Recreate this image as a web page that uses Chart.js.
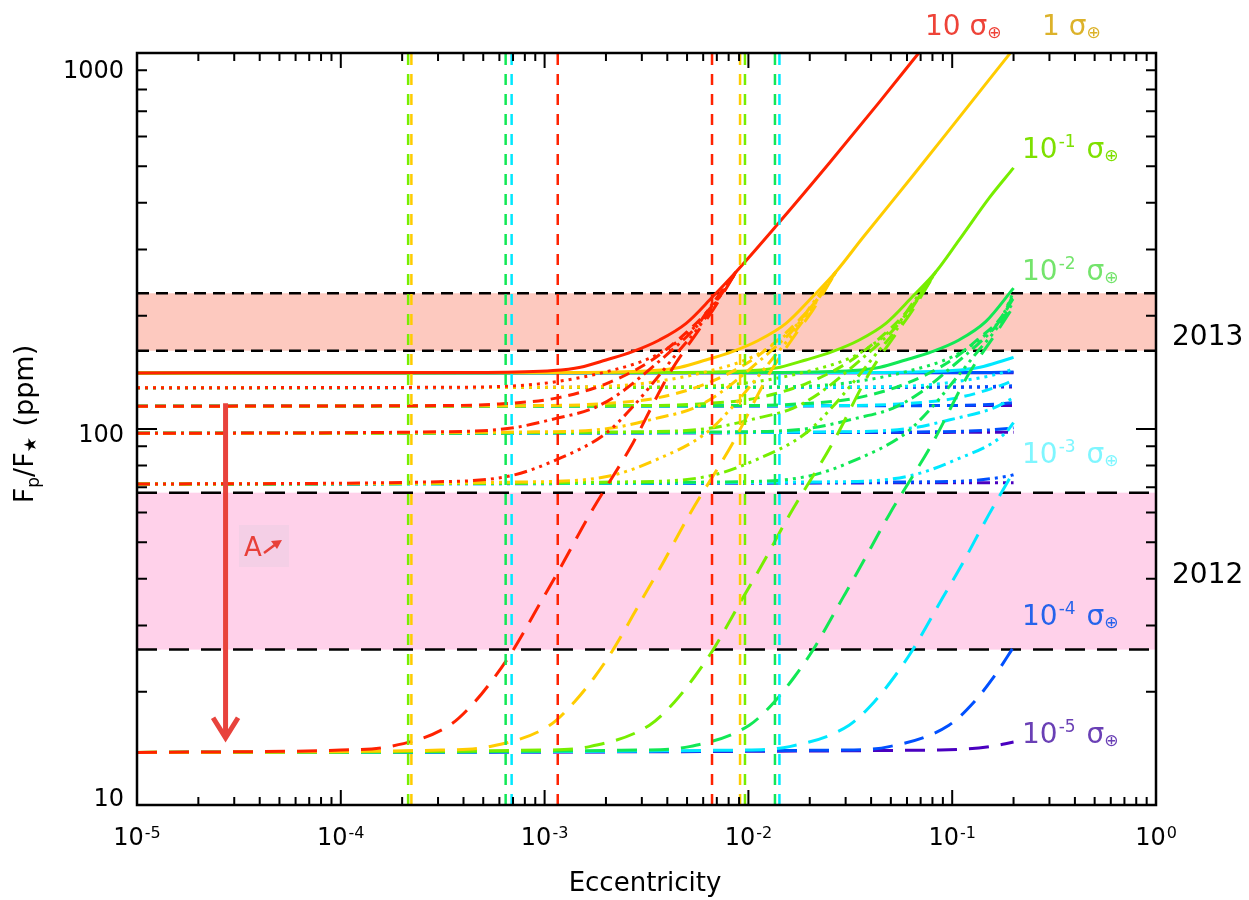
<!DOCTYPE html>
<html>
<head>
<meta charset="utf-8">
<script src="https://cdn.jsdelivr.net/npm/chart.js@4.4.0/dist/chart.umd.min.js"></script>
<style>
  body { margin: 0; background: #fff; }
  #wrap { width: 1249px; height: 900px; }
</style>
</head>
<body>
<div id="wrap"><canvas id="fluxChart" width="1249" height="900"></canvas></div>
<script>
// eccentricity vs Fp/F* (ppm), one family of curves per conductivity
// each curve: [eccentricity, ppm] pairs

// 10 sigma_earth
var s10_solid = [[1e-5,141],[5e-4,141.4],[1.1e-3,143],[1.5e-3,146],[2e-3,152.6],[2.7e-3,160.6],[3.66e-3,172.5],[4.95e-3,191],[6.69e-3,225],[8.71e-3,262],[1.37e-2,347],[2.49e-2,509],[4.38e-2,739],[6.85e-2,1000]];
var s10_dot = [[1e-5,128.8],[4e-4,129.2],[8e-4,130.8],[1.14e-3,133.6],[2e-3,141.9],[3.4e-3,155.6],[4.59e-3,172.5],[5.89e-3,195],[7.22e-3,225],[8.71e-3,262]];
var s10_dash = [[1e-5,115],[3e-4,115.4],[6e-4,116.6],[1.14e-3,120.8],[2e-3,131.9],[3.27e-3,151],[4.59e-3,174],[5.97e-3,199],[7.22e-3,225],[8.71e-3,262]];
var s10_dashdot = [[1e-5,97.4],[3e-4,98.3],[6.73e-4,100.4],[1.14e-3,106.7],[1.73e-3,113.5],[2.34e-3,124.5],[3.4e-3,146.6],[4.59e-3,169],[5.55e-3,187],[6.69e-3,216],[8.71e-3,262]];
var s10_dash3dot = [[1e-5,71.4],[3e-4,72.4],[6.73e-4,75],[1.14e-3,82.8],[2e-3,97.4],[2.71e-3,114.6],[3.4e-3,132.5],[4.59e-3,162],[5.55e-3,183],[6.69e-3,211],[8.71e-3,262]];
var s10_long = [[1e-5,13.8],[1e-4,14.0],[1.74e-4,14.3],[3.42e-4,16.3],[4.54e-4,18.8],[5.69e-4,21.9],[7e-4,25.8],[9.82e-4,35.5],[1.19e-3,42.6],[1.66e-3,59.1],[2.71e-3,91.7],[4.1e-3,140.6],[5.64e-3,181.5],[6.69e-3,207],[8.71e-3,262]];

// 1 sigma_earth
var s1_solid = [[1e-5,141],[1.55e-3,141.4],[3.4e-3,143],[4.64e-3,146],[6.18e-3,152.6],[8.34e-3,160.6],[1.13e-2,172.5],[1.53e-2,191],[2.07e-2,225],[2.69e-2,262],[3.63e-2,322],[6.38e-2,470],[0.112,690],[0.19,990],[0.2,1025]];
var s1_dot = [[1e-5,128.8],[1.24e-3,129.2],[2.47e-3,130.8],[3.52e-3,133.6],[6.18e-3,141.9],[1.05e-2,155.6],[1.42e-2,172.5],[1.82e-2,195],[2.23e-2,225],[2.69e-2,262]];
var s1_dash = [[1e-5,115],[9.27e-4,115.4],[1.85e-3,116.6],[3.52e-3,120.8],[6.18e-3,131.9],[1.01e-2,151],[1.42e-2,174],[1.84e-2,199],[2.23e-2,225],[2.69e-2,262]];
var s1_dashdot = [[1e-5,97.4],[9.27e-4,98.3],[2.08e-3,100.4],[3.52e-3,106.7],[5.35e-3,113.5],[7.23e-3,124.5],[1.05e-2,146.6],[1.42e-2,169],[1.71e-2,187],[2.07e-2,216],[2.69e-2,262]];
var s1_dash3dot = [[1e-5,71.4],[9.27e-4,72.4],[2.08e-3,75],[3.52e-3,82.8],[6.18e-3,97.4],[8.37e-3,114.6],[1.05e-2,132.5],[1.42e-2,162],[1.71e-2,183],[2.07e-2,211],[2.69e-2,262]];
var s1_long = [[1e-5,13.8],[3.09e-4,14.0],[5.38e-4,14.3],[1.06e-3,16.3],[1.4e-3,18.8],[1.76e-3,21.9],[2.16e-3,25.8],[3.03e-3,35.5],[3.68e-3,42.6],[5.13e-3,59.1],[8.37e-3,91.7],[1.27e-2,140.6],[1.74e-2,181.5],[2.07e-2,207],[2.69e-2,262]];

// 1e-1 sigma_earth
var s01_solid = [[1e-5,141],[4.78e-3,141.4],[1.05e-2,143],[1.43e-2,146],[1.91e-2,152.6],[2.58e-2,160.6],[3.5e-2,172.5],[4.73e-2,191],[6.39e-2,225],[8.32e-2,262],[0.108,318],[0.152,412],[0.2,495]];
var s01_dot = [[1e-5,128.8],[3.82e-3,129.2],[7.64e-3,130.8],[1.09e-2,133.6],[1.91e-2,141.9],[3.25e-2,155.6],[4.38e-2,172.5],[5.62e-2,195],[6.9e-2,225],[8.32e-2,262]];
var s01_dash = [[1e-5,115],[2.87e-3,115.4],[5.73e-3,116.6],[1.09e-2,120.8],[1.91e-2,131.9],[3.12e-2,151],[4.38e-2,174],[5.7e-2,199],[6.9e-2,225],[8.32e-2,262]];
var s01_dashdot = [[1e-5,97.4],[2.87e-3,98.3],[6.43e-3,100.4],[1.09e-2,106.7],[1.65e-2,113.5],[2.23e-2,124.5],[3.25e-2,146.6],[4.38e-2,169],[5.3e-2,187],[6.39e-2,216],[8.32e-2,262]];
var s01_dash3dot = [[1e-5,71.4],[2.87e-3,72.4],[6.43e-3,75],[1.09e-2,82.8],[1.91e-2,97.4],[2.59e-2,114.6],[3.25e-2,132.5],[4.38e-2,162],[5.3e-2,183],[6.39e-2,211],[8.32e-2,262]];
var s01_long = [[1e-5,13.8],[9.55e-4,14.0],[1.66e-3,14.3],[3.27e-3,16.3],[4.34e-3,18.8],[5.43e-3,21.9],[6.69e-3,25.8],[9.38e-3,35.5],[1.14e-2,42.6],[1.59e-2,59.1],[2.59e-2,91.7],[3.92e-2,140.6],[5.39e-2,181.5],[6.39e-2,207],[8.32e-2,262]];

// 1e-2 sigma_earth
var s001_solid = [[1e-5,141],[1.48e-2,141.4],[3.25e-2,143],[4.43e-2,146],[5.9e-2,152.6],[7.97e-2,160.6],[0.108,172.5],[0.146,193],[0.2,237]];
var s001_dot = [[1e-5,128.8],[1.18e-2,129.2],[2.36e-2,130.8],[3.36e-2,133.6],[5.9e-2,141.9],[0.1,155.6],[0.135,172.5],[0.174,197],[0.2,232]];
var s001_dash = [[1e-5,115],[8.85e-3,115.4],[1.77e-2,116.6],[3.36e-2,120.8],[5.9e-2,131.9],[9.65e-2,151],[0.135,174],[0.176,200],[0.2,228]];
var s001_dashdot = [[1e-5,97.4],[8.85e-3,98.3],[1.99e-2,100.4],[3.36e-2,106.7],[5.1e-2,113.5],[6.9e-2,124.5],[0.1,146.6],[0.135,169],[0.164,188],[0.2,223]];
var s001_dash3dot = [[1e-5,71.4],[8.85e-3,72.4],[1.99e-2,75],[3.36e-2,82.8],[5.9e-2,97.4],[8.0e-2,114.6],[0.1,132.5],[0.135,162],[0.164,184],[0.2,218]];
var s001_long = [[1e-5,13.8],[2.95e-3,14.0],[5.13e-3,14.3],[1.01e-2,16.3],[1.34e-2,18.8],[1.68e-2,21.9],[2.07e-2,25.8],[2.9e-2,35.5],[3.51e-2,42.6],[4.9e-2,59.1],[8.0e-2,91.7],[0.121,140.6],[0.166,181.5],[0.2,212]];

// 1e-3 sigma_earth
var s1e3_solid = [[1e-5,141],[4.56e-2,141.4],[0.1,143],[0.137,146],[0.182,152.6],[0.2,155]];
var s1e3_dot = [[1e-5,128.8],[3.65e-2,129.2],[7.3e-2,130.8],[0.104,133.6],[0.182,141.9],[0.2,145]];
var s1e3_dash = [[1e-5,115],[2.74e-2,115.4],[5.47e-2,116.6],[0.104,120.8],[0.182,131.9],[0.2,135]];
var s1e3_dashdot = [[1e-5,97.4],[2.74e-2,98.3],[6.14e-2,100.4],[0.104,106.7],[0.158,113.5],[0.2,121]];
var s1e3_dash3dot = [[1e-5,71.4],[2.74e-2,72.4],[6.14e-2,75],[0.104,82.8],[0.182,97.4],[0.2,104]];
var s1e3_long = [[1e-5,13.8],[9.12e-3,14.0],[1.59e-2,14.3],[3.12e-2,16.3],[4.14e-2,18.8],[5.19e-2,21.9],[6.38e-2,25.8],[8.96e-2,35.5],[0.109,42.6],[0.151,59.1],[0.2,77]];

// 1e-4 sigma_earth
var s1e4_solid = [[1e-5,141],[0.141,141.4],[0.2,141.8]];
var s1e4_dot = [[1e-5,128.8],[0.113,129.2],[0.2,130.3]];
var s1e4_dash = [[1e-5,115],[8.46e-2,115.4],[0.169,116.6],[0.2,117.5]];
var s1e4_dashdot = [[1e-5,97.4],[8.46e-2,98.3],[0.19,100.4],[0.2,100.8]];
var s1e4_dash3dot = [[1e-5,71.4],[8.46e-2,72.4],[0.19,75],[0.2,75.6]];
var s1e4_long = [[1e-5,13.8],[2.82e-2,14.0],[4.91e-2,14.3],[9.64e-2,16.3],[0.128,18.8],[0.16,21.9],[0.2,26.3]];

// 1e-5 sigma_earth
var s1e5_solid = [[1e-5,141],[0.2,141.2]];
var s1e5_dot = [[1e-5,128.8],[0.2,129.3]];
var s1e5_dash = [[1e-5,115],[0.2,115.5]];
var s1e5_dashdot = [[1e-5,97.4],[0.2,98]];
var s1e5_dash3dot = [[1e-5,71.4],[0.2,72]];
var s1e5_long = [[1e-5,13.8],[8.71e-2,14.0],[0.152,14.3],[0.2,14.7]];

// vertical eccentricity markers
var markerEcc = [2.14e-4, 2.22e-4, 6.44e-4, 6.89e-4, 1.16e-3, 6.63e-3, 9.10e-3, 9.62e-3, 1.35e-2, 1.42e-2];
var markerColors = ['#77ee00', '#ffcc00', '#11e855', '#00e8ff', '#ff2200', '#ff2200', '#ffcc00', '#77ee00', '#11e855', '#00e8ff'];

// observed ranges (ppm)
var band2013 = [161.5, 229.6];
var band2012 = [25.9, 67.7];

// big arrow: eccentricity, from / to (ppm)
var arrowEcc = 2.72e-5;
var arrowFrom = 117;
var arrowTo = 15.1;

var xTickExp = [-5, -4, -3, -2, -1, 0];
var yTickVals = [10, 100, 1000];

var FONT = "'DejaVu Sans', Verdana, sans-serif";

var familyColors = ['#ff2200', '#ffcc00', '#77ee00', '#11e855', '#00e8ff', '#0050ff', '#4a00c0'];
var familyCurves = [
    [s10_solid, s10_dot, s10_dash, s10_dashdot, s10_dash3dot, s10_long],
    [s1_solid, s1_dot, s1_dash, s1_dashdot, s1_dash3dot, s1_long],
    [s01_solid, s01_dot, s01_dash, s01_dashdot, s01_dash3dot, s01_long],
    [s001_solid, s001_dot, s001_dash, s001_dashdot, s001_dash3dot, s001_long],
    [s1e3_solid, s1e3_dot, s1e3_dash, s1e3_dashdot, s1e3_dash3dot, s1e3_long],
    [s1e4_solid, s1e4_dot, s1e4_dash, s1e4_dashdot, s1e4_dash3dot, s1e4_long],
    [s1e5_solid, s1e5_dot, s1e5_dash, s1e5_dashdot, s1e5_dash3dot, s1e5_long]
];
var styleDashes = [[], [3, 5], [11, 7], [13, 5, 3, 5], [13, 5, 3, 5, 3, 5, 3, 5], [20, 12]];

var datasets = [];
familyCurves.forEach(function (curves, i) {
    curves.forEach(function (pts, j) {
        datasets.push({
            data: pts,
            borderColor: familyColors[i],
            borderWidth: 3,
            borderDash: styleDashes[j],
            pointRadius: 0,
            fill: false,
            cubicInterpolationMode: 'monotone',
            order: i + 1
        });
    });
});
markerEcc.forEach(function (e, i) {
    datasets.push({
        data: [[e, 10], [e, 1000]],
        borderColor: markerColors[i],
        borderWidth: 2.5,
        borderDash: [11, 9],
        pointRadius: 0,
        fill: false,
        order: 0
    });
});

function drawRich(ctx, x, y, parts, color, align) {
    ctx.fillStyle = color;
    ctx.textBaseline = 'alphabetic';
    ctx.textAlign = 'left';
    var w = 0;
    parts.forEach(function (p) {
        ctx.font = p.size + 'px ' + FONT;
        w += ctx.measureText(p.t).width + (p.gap || 0);
    });
    var cx = align === 'center' ? x - w / 2 : x;
    parts.forEach(function (p) {
        ctx.font = p.size + 'px ' + FONT;
        ctx.fillText(p.t, cx, y + (p.dy || 0));
        cx += ctx.measureText(p.t).width + (p.gap || 0);
    });
}

function sigmaParts(exp) {
    var parts;
    if (exp === null) parts = [{ t: '10 σ', size: 28 }];
    else if (exp === 0) parts = [{ t: '1 σ', size: 28 }];
    else parts = [{ t: '10', size: 28, gap: 1 }, { t: '-' + exp, size: 17, dy: -11, gap: 2 }, { t: ' σ', size: 28 }];
    parts.push({ t: '⊕', size: 17, dy: 3 });
    return parts;
}

var sigmaLabels = [
    { exp: null, color: '#ee4338', x: 925, y: 35 },
    { exp: 0, color: '#dcb22a', x: 1042, y: 35 },
    { exp: 1, color: '#7ee000', x: 1022, y: 158 },
    { exp: 2, color: '#74e46c', x: 1022, y: 280 },
    { exp: 3, color: '#7ff6ff', x: 1022, y: 463 },
    { exp: 4, color: '#2563eb', x: 1022, y: 625 },
    { exp: 5, color: '#6a40b5', x: 1022, y: 743 }
];

function hline(ctx, x0, x1, y, dash) {
    ctx.setLineDash(dash);
    ctx.beginPath();
    ctx.moveTo(x0, y);
    ctx.lineTo(x1, y);
    ctx.stroke();
}

var backgroundPlugin = {
    id: 'backgroundAndBands',
    beforeDraw: function (chart) {
        var ctx = chart.ctx;
        ctx.save();
        ctx.fillStyle = '#ffffff';
        ctx.fillRect(0, 0, chart.width, chart.height);
        ctx.restore();
    },
    beforeDatasetsDraw: function (chart) {
        var ctx = chart.ctx, a = chart.chartArea, y = chart.scales.y;
        ctx.save();
        var bands = [[band2013, '#fdc9bf', [12, 7]], [band2012, '#ffd1ea', [20, 12]]];
        bands.forEach(function (b) {
            var top = y.getPixelForValue(b[0][1]);
            var bot = y.getPixelForValue(b[0][0]);
            ctx.fillStyle = b[1];
            ctx.fillRect(a.left, top, a.right - a.left, bot - top);
            ctx.strokeStyle = '#000';
            ctx.lineWidth = 2.5;
            hline(ctx, a.left, a.right, top, b[2]);
            hline(ctx, a.left, a.right, bot, b[2]);
        });
        ctx.restore();
    }
};

var framePlugin = {
    id: 'frameAndText',
    afterDatasetsDraw: function (chart) {
        var ctx = chart.ctx, a = chart.chartArea, x = chart.scales.x, y = chart.scales.y;
        ctx.save();
        ctx.setLineDash([]);

        // "A" note box
        ctx.fillStyle = '#f4cfe6';
        ctx.fillRect(239, 525, 50, 42);
        ctx.fillStyle = '#e8403a';
        ctx.font = '26px ' + FONT;
        ctx.textBaseline = 'alphabetic';
        ctx.fillText('A', 244, 556);
        ctx.strokeStyle = '#e8403a';
        ctx.lineWidth = 2.5;
        ctx.beginPath();
        ctx.moveTo(264, 553);
        ctx.lineTo(276, 544);
        ctx.stroke();
        ctx.beginPath();
        ctx.moveTo(282, 540);
        ctx.lineTo(271, 541);
        ctx.lineTo(277, 549);
        ctx.closePath();
        ctx.fill();

        // big arrow
        var ax = x.getPixelForValue(arrowEcc);
        var ay0 = y.getPixelForValue(arrowFrom);
        var ay1 = y.getPixelForValue(arrowTo);
        ctx.strokeStyle = '#e8433c';
        ctx.lineWidth = 5;
        ctx.beginPath();
        ctx.moveTo(ax, ay0);
        ctx.lineTo(ax, ay1 - 2);
        ctx.stroke();
        ctx.beginPath();
        ctx.moveTo(ax - 12.5, ay1 - 20);
        ctx.lineTo(ax, ay1);
        ctx.lineTo(ax + 12.5, ay1 - 20);
        ctx.stroke();

        // frame
        ctx.strokeStyle = '#000';
        ctx.lineWidth = 2.5;
        ctx.strokeRect(a.left, a.top, a.right - a.left, a.bottom - a.top);

        // ticks
        ctx.lineWidth = 2;
        ctx.beginPath();
        for (var k = -5; k <= 0; k++) {
            for (var m = 1; m <= 9; m++) {
                if (k === 0 && m > 1) break;
                var px = x.getPixelForValue(m * Math.pow(10, k));
                var len = m === 1 ? 15 : 8;
                ctx.moveTo(px, a.bottom);
                ctx.lineTo(px, a.bottom - len);
                ctx.moveTo(px, a.top);
                ctx.lineTo(px, a.top + len);
            }
        }
        for (var ky = 1; ky <= 3; ky++) {
            for (var my = 1; my <= 9; my++) {
                if (ky === 3 && my > 1) break;
                var py = y.getPixelForValue(my * Math.pow(10, ky));
                var ylen = my === 1 ? 20 : 10;
                ctx.moveTo(a.left, py);
                ctx.lineTo(a.left + ylen, py);
                ctx.moveTo(a.right, py);
                ctx.lineTo(a.right - ylen, py);
            }
        }
        ctx.stroke();

        // tick labels
        xTickExp.forEach(function (e) {
            var px = x.getPixelForValue(Math.pow(10, e));
            drawRich(ctx, px, 845, [{ t: '10', size: 24, gap: 1 }, { t: String(e), size: 16, dy: -7 }], '#000', 'center');
        });
        var yLabelShift = { 10: 1, 100: 13, 1000: 25 };
        ctx.font = '24px ' + FONT;
        ctx.fillStyle = '#000';
        ctx.textAlign = 'right';
        yTickVals.forEach(function (v) {
            ctx.fillText(String(v), 124, y.getPixelForValue(v) + yLabelShift[v]);
        });

        // axis titles
        ctx.textAlign = 'center';
        ctx.font = '26px ' + FONT;
        ctx.fillText('Eccentricity', 645, 891);
        ctx.save();
        ctx.translate(33, 424);
        ctx.rotate(-Math.PI / 2);
        drawRich(ctx, 0, 0, [
            { t: 'F', size: 27 }, { t: 'p', size: 17, dy: 6 },
            { t: '/F', size: 27 }, { t: '★', size: 17, dy: 3, gap: 2 },
            { t: ' (ppm)', size: 27 }
        ], '#000', 'center');
        ctx.restore();

        // observation years
        ctx.textAlign = 'left';
        ctx.font = '28px ' + FONT;
        ctx.fillStyle = '#000';
        ctx.fillText('2013', 1172, 345);
        ctx.fillText('2012', 1172, 583);

        // conductivity labels
        sigmaLabels.forEach(function (l) {
            drawRich(ctx, l.x, l.y, sigmaParts(l.exp), l.color, 'left');
        });
        ctx.restore();
    }
};

var ctx = document.getElementById('fluxChart').getContext('2d');
window.fluxChart = new Chart(ctx, {
    type: 'line',
    data: { datasets: datasets },
    options: {
        responsive: false,
        animation: false,
        devicePixelRatio: 1,
        layout: { padding: { left: 137, right: 93, top: 53, bottom: 95 } },
        plugins: { legend: { display: false }, tooltip: { enabled: false } },
        scales: {
            x: { type: 'logarithmic', min: 1e-5, max: 1, display: false },
            y: { type: 'logarithmic', min: 10, max: 1000, display: false }
        },
        elements: { point: { radius: 0 }, line: { borderCapStyle: 'butt' } }
    },
    plugins: [backgroundPlugin, framePlugin]
});
</script>
</body>
</html>
